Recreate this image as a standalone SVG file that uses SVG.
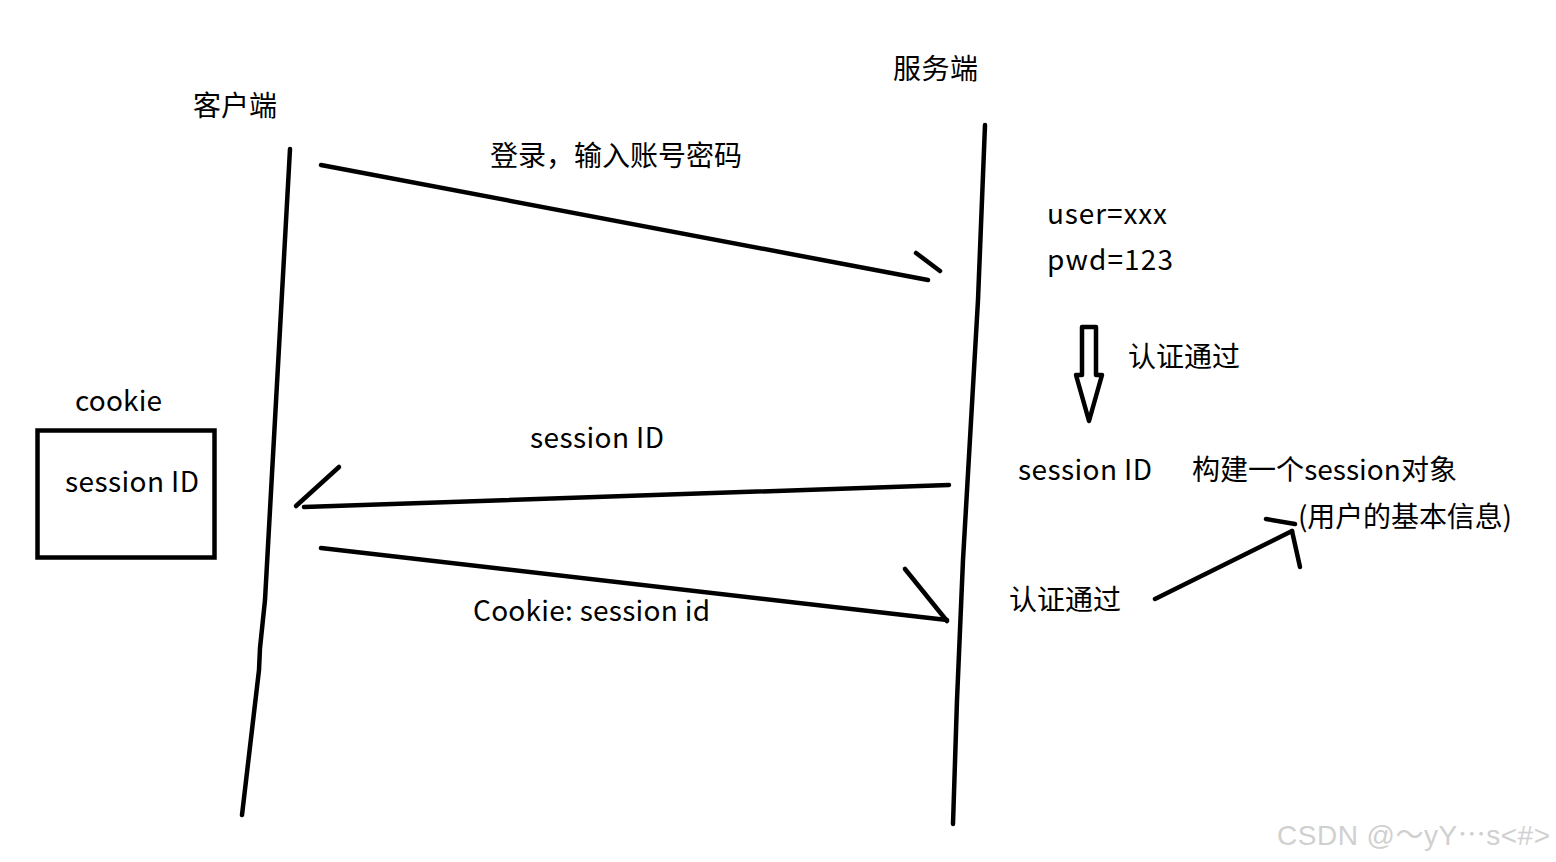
<svg xmlns="http://www.w3.org/2000/svg" width="1556" height="862" viewBox="0 0 1556 862">
<style>
.t{font-family:"Noto Sans CJK SC","Noto Sans",sans-serif;font-size:28px;fill:#000}
.ln{fill:none;stroke:#000;stroke-width:4.5;stroke-linecap:round;stroke-linejoin:round}
.wm{font-family:"Liberation Sans","Noto Sans CJK SC",sans-serif;font-size:28px;fill:#d0d0d0}
</style>
<rect width="1556" height="862" fill="#fff"/>
<g id="client">
<polyline class="ln" points="290,149 265,600 260,648 259,670 242,815"/>
<text class="t" x="193" y="116" textLength="84">客户端</text>
</g>
<g id="server">
<polyline class="ln" points="985,125 978,300 963,560 957,700 953,824"/>
<text class="t" x="893" y="79" textLength="85">服务端</text>
</g>
<g id="cookie">
<rect x="37.5" y="430.5" width="177" height="127" fill="none" stroke="#000" stroke-width="4.5"/>
<text class="t" x="75" y="411" textLength="87">cookie</text>
<text class="t" x="65" y="492" textLength="134">session ID</text>
</g>
<g id="server-notes">
<text class="t" x="1047" y="224" textLength="120">user=xxx</text>
<text class="t" x="1047" y="270" textLength="126">pwd=123</text>
<text class="t" x="1128" y="367" textLength="112">认证通过</text>
<text class="t" x="1018" y="480" textLength="134">session ID</text>
<text class="t" x="1192" y="480" textLength="265">构建一个session对象</text>
<text class="t" x="1298" y="527" textLength="214">(用户的基本信息)</text>
<text class="t" x="1009" y="610" textLength="112">认证通过</text>
</g>
<g id="connectors">
<line class="ln" x1="321" y1="165" x2="928" y2="280"/>
<line class="ln" x1="916" y1="253" x2="940" y2="271"/>
<text class="t" x="490" y="166" textLength="252">登录，输入账号密码</text>
<line class="ln" x1="949" y1="485" x2="304" y2="507"/>
<line class="ln" x1="339" y1="467" x2="296" y2="506"/>
<text class="t" x="530" y="448" textLength="134">session ID</text>
<line class="ln" x1="321" y1="548" x2="947" y2="620"/>
<line class="ln" x1="905" y1="569" x2="947" y2="621"/>
<text class="t" x="473" y="621" textLength="237">Cookie: session id</text>
<path class="ln" d="M1082,375 L1082,327 L1096,327 L1096,375 L1102,375 L1089,421 L1076,375 Z"/>
<line class="ln" x1="1155" y1="599" x2="1292" y2="531"/>
<line class="ln" x1="1266" y1="519" x2="1295" y2="524"/>
<line class="ln" x1="1292" y1="531" x2="1300" y2="567"/>
</g>
<text class="wm" x="1277" y="845" textLength="273">CSDN @<tspan font-family="Noto Sans CJK SC">～</tspan>yY<tspan font-family="Noto Sans CJK SC" xml:lang="zh-CN">…</tspan>s&lt;#&gt;</text>
</svg>
